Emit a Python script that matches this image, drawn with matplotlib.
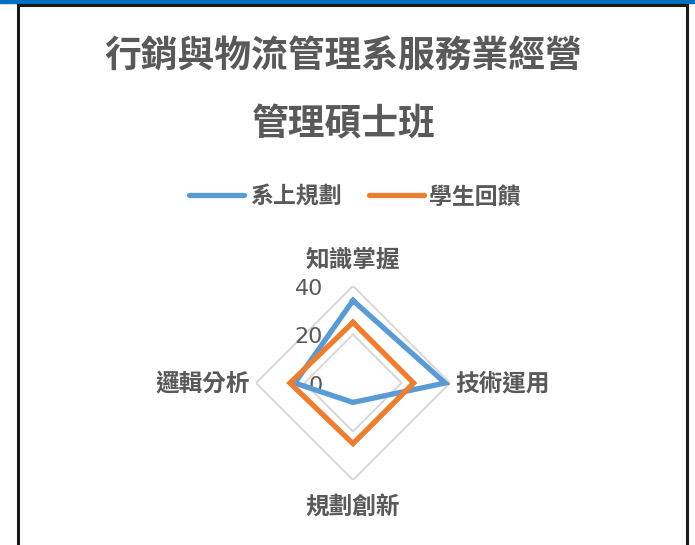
import numpy as np
import matplotlib
matplotlib.use("Agg")
import matplotlib.pyplot as plt
from matplotlib.patches import Rectangle
from matplotlib.lines import Line2D

plt.rcParams['font.family'] = ['Noto Sans CJK TC', 'DejaVu Sans']

# data
categories = ["知識掌握", "技術運用", "規劃創新", "邏輯分析"]
dept_plan = [34, 38, 8, 24]        # 系上規劃
student_fb = [25, 25, 25, 26]      # 學生回饋
r_ticks = [0, 20, 40]
series_names = ["系上規劃", "學生回饋"]
colors = ["#5B9BD5", "#ED7D31"]
title_lines = ["行銷與物流管理系服務業經營", "管理碩士班"]

W, H = 695, 545
fig = plt.figure(figsize=(W / 100, H / 100), dpi=100)

# frame + top strip like the source screenshot
fig.patches.append(Rectangle((0, 1 - 3 / H), 1, 3 / H, transform=fig.transFigure,
                             color="#0070C0", zorder=0))
fig.patches.append(Rectangle((17.5 / W, -0.05), (687 - 17.5) / W, 1.05 - 5 / H,
                             transform=fig.transFigure, fill=False,
                             edgecolor="#1a1a1a", lw=2.2, zorder=1))

# title
fig.text(343 / W, 1 - 57 / H, title_lines[0], ha="center", va="center",
         fontsize=26.5, fontweight="bold", color="#595959")
fig.text(344 / W, 1 - 125 / H, title_lines[1], ha="center", va="center",
         fontsize=26.5, fontweight="bold", color="#595959")

# radar axes
cx, cy, rad = 353, 383, 97
ax = fig.add_axes([(cx - rad) / W, (H - cy - rad) / H, 2 * rad / W, 2 * rad / H],
                  projection="polar")
ax.set_theta_offset(np.pi / 2)
ax.set_theta_direction(-1)
ax.set_ylim(0, 40)
ax.grid(False)
ax.spines["polar"].set_visible(False)
ax.set_xticks([])
ax.set_yticks([])
ax.patch.set_alpha(0)

n = len(categories)
angles = np.linspace(0, 2 * np.pi, n, endpoint=False)
closed = np.append(angles, angles[0])

for r in r_ticks[1:]:
    ax.plot(closed, [r] * (n + 1), color="#D9D9D9", lw=1.5, zorder=1)

for vals, c in zip([dept_plan, student_fb], colors):
    v = vals + vals[:1]
    ax.plot(closed, v, color=c, lw=3.8, solid_joinstyle="miter", zorder=3)

for r in r_ticks:
    ax.annotate(str(r), xy=(0, r), xytext=(-21.5, -2), textcoords="offset points",
                ha="right", va="center", fontsize=16, color="#595959",
                family=["DejaVu Sans"], annotation_clip=False, zorder=2)

offsets = [(0, 19), (3.5, 0), (0, -20), (-4.5, 0)]
aligns = [("center", "center"), ("left", "center"), ("center", "center"), ("right", "center")]
for a, lab, off, (ha, va) in zip(angles, categories, offsets, aligns):
    ax.annotate(lab, xy=(a, 40), xytext=off, textcoords="offset points",
                ha=ha, va=va, fontsize=17, fontweight="bold", color="#595959",
                annotation_clip=False)

handles = [Line2D([], [], color=c, lw=3.8, solid_capstyle="round") for c in colors]
fig.legend(handles, series_names, loc="center", bbox_to_anchor=(355 / W, 1 - 197 / H),
           ncol=2, frameon=False, handlelength=2.4, handletextpad=0.25,
           columnspacing=1.2, prop={"size": 16.5, "weight": "bold"},
           labelcolor="#595959")

fig.savefig("out.png", dpi=100)
